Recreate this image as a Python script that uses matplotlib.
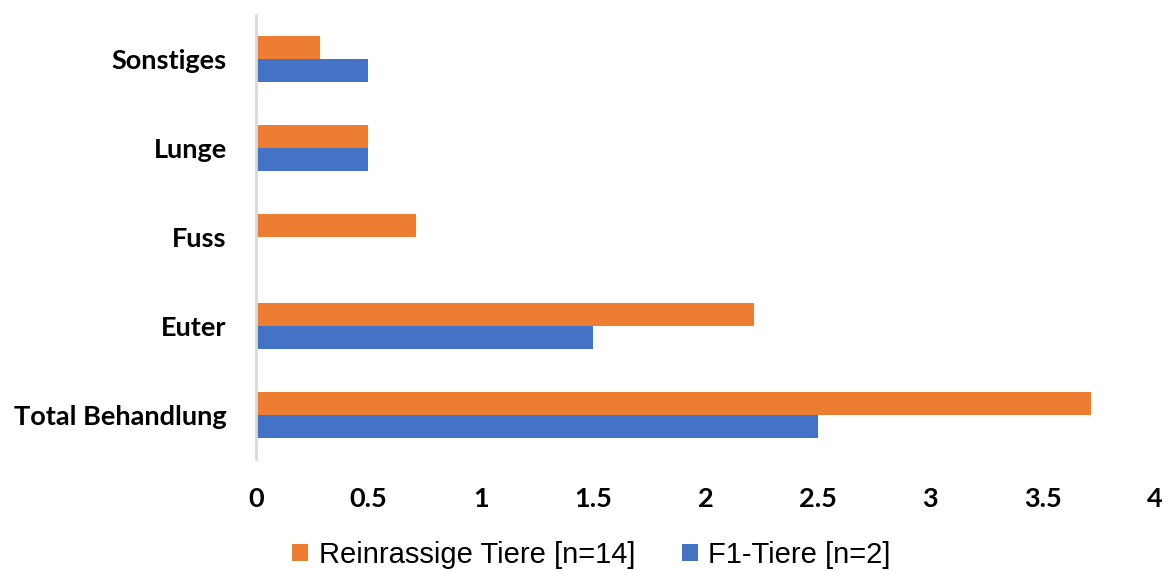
import numpy as np
import matplotlib.pyplot as plt

categories = ["Total Behandlung", "Euter", "Fuss", "Lunge", "Sonstiges"]
reinrassig = [3.714, 2.214, 0.714, 0.5, 0.286]
f1 = [2.5, 1.5, 0.0, 0.5, 0.5]
xticks = [0, 0.5, 1, 1.5, 2, 2.5, 3, 3.5, 4]
xticklabels = ["0", "0.5", "1", "1.5", "2", "2.5", "3", "3.5", "4"]

orange = "#ED7D31"
blue = "#4472C4"

fig = plt.figure(figsize=(11.69, 5.71), dpi=100)
ax = fig.add_axes([0.219, 0.196, 0.769, 0.778])

y = np.arange(len(categories))
h = 0.26
ax.barh(y + h / 2, reinrassig, height=h, color=orange, label="Reinrassige Tiere [n=14]")
ax.barh(y - h / 2, f1, height=h, color=blue, label="F1-Tiere [n=2]")

ax.set_xlim(0, 4)
ax.set_ylim(-0.5, len(categories) - 0.5)
ax.set_yticks(y)
ax.set_yticklabels(categories, fontsize=19.5, fontweight="bold", family="Lato")
ax.set_xticks(xticks)
ax.set_xticklabels(xticklabels, fontsize=19.5, fontweight="bold", family="Lato")
ax.tick_params(axis="both", length=0)
ax.tick_params(axis="x", pad=20)
ax.tick_params(axis="y", pad=21)

for s in ["top", "right", "bottom"]:
    ax.spines[s].set_visible(False)
ax.spines["left"].set_color("#D9D9D9")
ax.spines["left"].set_linewidth(2)

fig.legend(loc="center", bbox_to_anchor=(0.506, 0.028), ncol=2, frameon=False,
           prop={"family": "Liberation Sans", "size": 21}, handlelength=0.55, handleheight=0.55,
           handletextpad=0.35, columnspacing=1.6, borderaxespad=0)

fig.savefig("out.png", dpi=100)
